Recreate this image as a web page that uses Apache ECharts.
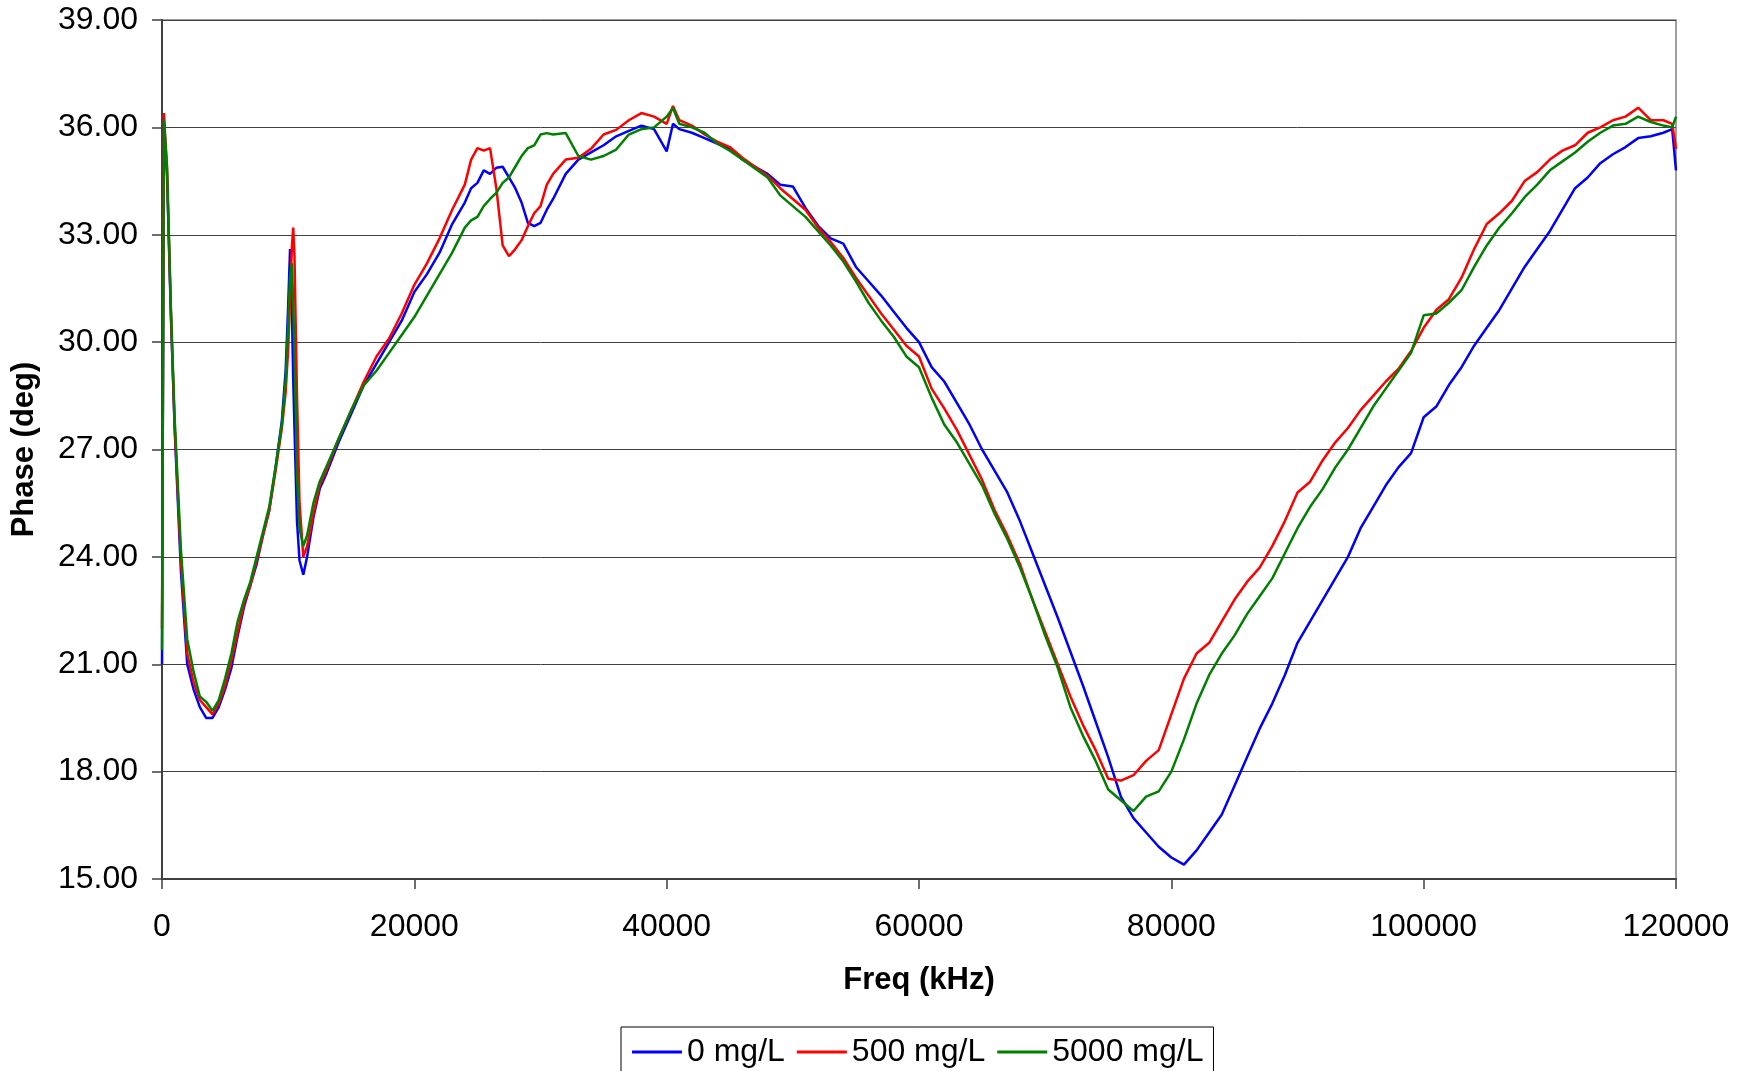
<!DOCTYPE html>
<html>
<head>
<meta charset="utf-8">
<script src="https://cdn.jsdelivr.net/npm/echarts@6/dist/echarts.min.js"></script>
<style>
  html, body { margin: 0; padding: 0; background: #fff; }
  #chart { width: 1749px; height: 1071px; }
</style>
</head>
<body>
<div id="chart"></div>
<script>
// frequency points (kHz)
const freq = [
  0, 150, 400, 700, 1000, 1500, 2000, 2500, 3000, 3500,
  4000, 4500, 5000, 5500, 6000, 6500, 7000, 7500, 8000, 8500,
  9000, 9500, 9800, 10000, 10150, 10300, 10400, 10500, 10700, 10900,
  11200, 11500, 12000, 12500, 13000, 14000, 15000, 16000, 17000, 18000,
  19000, 20000, 21000, 22000, 23000, 24000, 24500, 25000, 25500, 26000,
  26500, 27000, 27500, 28000, 28500, 29000, 29500, 30000, 30500, 31000,
  32000, 33000, 34000, 35000, 36000, 37000, 38000, 39000, 40000, 40500,
  41000, 42000, 43000, 44000, 45000, 46000, 47000, 48000, 49000, 50000,
  51000, 52000, 53000, 54000, 55000, 56000, 57000, 58000, 59000, 60000,
  61000, 62000, 63000, 64000, 65000, 66000, 67000, 68000, 69000, 70000,
  71000, 72000, 73000, 74000, 75000, 76000, 77000, 78000, 79000, 80000,
  81000, 82000, 83000, 84000, 85000, 86000, 87000, 88000, 89000, 90000,
  91000, 92000, 93000, 94000, 95000, 96000, 97000, 98000, 99000, 100000,
  101000, 102000, 103000, 104000, 105000, 106000, 107000, 108000, 109000, 110000,
  111000, 112000, 113000, 114000, 115000, 116000, 117000, 118000, 119000, 119700, 120000
];

// phase (deg), 0 mg/L
const phase0 = [
  21.0, 36.2, 34.6, 30.8, 27.6, 23.6, 21.0, 20.3, 19.8, 19.5,
  19.5, 19.8, 20.3, 20.9, 21.8, 22.6, 23.2, 23.8, 24.6, 25.3,
  26.5, 27.8, 29.2, 31.0, 32.6, 30.8, 29.0, 27.6, 25.0, 23.9,
  23.5, 24.0, 25.1, 25.9, 26.3, 27.2, 28.0, 28.8, 29.4, 30.0,
  30.6, 31.4, 31.9, 32.5, 33.3, 33.9, 34.3, 34.45, 34.8, 34.7,
  34.87, 34.9, 34.6, 34.3, 33.9, 33.33, 33.24, 33.33, 33.7, 34.0,
  34.7, 35.1, 35.3, 35.5, 35.75, 35.9, 36.05, 35.95, 35.33, 36.1,
  35.95, 35.85, 35.7, 35.55, 35.4, 35.1, 34.9, 34.7, 34.4, 34.35,
  33.75, 33.25, 32.9, 32.75, 32.1, 31.7, 31.3, 30.85, 30.4, 30.0,
  29.3, 28.9, 28.3, 27.7, 27.0, 26.4, 25.8, 25.0, 24.1, 23.2,
  22.3, 21.35, 20.4, 19.4, 18.4, 17.3, 16.7, 16.3, 15.9, 15.6,
  15.4, 15.8, 16.3, 16.8, 17.6, 18.4, 19.2, 19.9, 20.7, 21.6,
  22.2, 22.8, 23.4, 24.0, 24.8, 25.4, 26.0, 26.5, 26.9, 27.9,
  28.2, 28.8, 29.3, 29.9, 30.4, 30.9, 31.5, 32.1, 32.6, 33.1,
  33.7, 34.3, 34.6, 35.0, 35.25, 35.45, 35.7, 35.75, 35.85, 35.95, 34.8
];

// phase (deg), 500 mg/L
const phase500 = [
  22.0, 36.4, 34.8, 30.9, 27.7, 23.9, 21.3, 20.5, 20.0, 19.8,
  19.6, 19.9, 20.4, 21.1, 21.9, 22.7, 23.2, 23.9, 24.6, 25.3,
  26.4, 27.6, 28.6, 29.8, 31.2, 32.7, 33.2, 32.4, 28.5, 25.5,
  24.0, 24.3, 25.2, 26.0, 26.4, 27.3, 28.1, 28.9, 29.6, 30.1,
  30.8, 31.6, 32.2, 32.9, 33.7, 34.4, 35.1, 35.42, 35.35, 35.42,
  34.3, 32.7, 32.4, 32.6, 32.85, 33.24, 33.6, 33.8, 34.4, 34.7,
  35.1, 35.15, 35.4, 35.8, 35.93, 36.2, 36.4, 36.3, 36.1, 36.6,
  36.2, 36.05, 35.8, 35.6, 35.45, 35.15, 34.9, 34.65, 34.3, 34.0,
  33.7, 33.2, 32.8, 32.35, 31.8, 31.3, 30.8, 30.35, 29.9, 29.6,
  28.7, 28.15, 27.55, 26.85, 26.15, 25.3, 24.6, 23.8, 22.8, 21.9,
  21.0, 20.1, 19.3, 18.6, 17.8, 17.75, 17.9, 18.3, 18.6, 19.6,
  20.6, 21.3, 21.6, 22.2, 22.8, 23.3, 23.7, 24.3, 25.0, 25.8,
  26.1, 26.7, 27.2, 27.6, 28.1, 28.5, 28.9, 29.25, 29.75, 30.4,
  30.9, 31.2, 31.8, 32.6, 33.3, 33.6, 33.95, 34.5, 34.75, 35.1,
  35.35, 35.5, 35.85, 36.0, 36.2, 36.3, 36.55, 36.2, 36.2, 36.1, 35.4
];

// phase (deg), 5000 mg/L
const phase5000 = [
  21.4, 36.2, 34.9, 31.0, 27.9, 24.2, 21.7, 20.8, 20.1, 19.95,
  19.7, 20.0, 20.6, 21.3, 22.2, 22.8, 23.3, 24.0, 24.7, 25.4,
  26.5, 27.7, 28.9, 30.5, 31.8, 32.2, 31.0, 29.8, 26.3, 24.8,
  24.3, 24.6, 25.5, 26.1, 26.5, 27.3, 28.1, 28.8, 29.2, 29.7,
  30.2, 30.7, 31.3, 31.9, 32.5, 33.2, 33.4, 33.5, 33.8, 34.0,
  34.17, 34.45, 34.6, 34.9, 35.2, 35.42, 35.5, 35.8, 35.84, 35.8,
  35.84, 35.2, 35.1, 35.2, 35.38, 35.8, 35.95, 36.0, 36.3, 36.54,
  36.1, 36.0, 35.85, 35.55, 35.35, 35.1, 34.85, 34.6, 34.1, 33.8,
  33.5, 33.1, 32.7, 32.25, 31.7, 31.1, 30.6, 30.15, 29.6, 29.3,
  28.45, 27.7, 27.2, 26.6, 26.0, 25.2, 24.5, 23.7, 22.8, 21.8,
  20.9, 19.8, 19.0, 18.3, 17.5, 17.2, 16.9, 17.3, 17.45, 18.0,
  18.9, 19.9, 20.7, 21.3, 21.8, 22.4, 22.9, 23.4, 24.1, 24.8,
  25.4, 25.9, 26.5, 27.0, 27.6, 28.2, 28.7, 29.2, 29.7, 30.75,
  30.8, 31.1, 31.45, 32.1, 32.7, 33.2, 33.6, 34.05, 34.4, 34.8,
  35.05, 35.3, 35.6, 35.85, 36.05, 36.1, 36.3, 36.15, 36.05, 36.0, 36.3
];

const seriesNames = ['0 mg/L', '500 mg/L', '5000 mg/L'];
const seriesColors = ['#0000ff', '#ff0000', '#008000'];
const seriesValues = [phase0, phase500, phase5000];

const FONT = 'Liberation Sans, Arial, sans-serif';
const chart = echarts.init(document.getElementById('chart'));

const option = {
  animation: false,
  backgroundColor: '#fff',
  textStyle: { fontFamily: FONT, color: '#000' },
  grid: {
    left: 162, right: 73, top: 20, bottom: 192,
    show: true, borderColor: '#808080', borderWidth: 1.5
  },
  legend: {
    data: seriesNames,
    left: 621, top: 1027,
    padding: [9, 10, 9, 11],
    itemGap: 12,
    itemWidth: 50, itemHeight: 3,
    icon: 'rect',
    borderColor: '#000', borderWidth: 1,
    textStyle: { fontSize: 32, color: '#000', fontFamily: FONT }
  },
  xAxis: {
    type: 'value',
    min: 0, max: 120000, interval: 20000,
    name: 'Freq (kHz)',
    nameLocation: 'middle',
    nameGap: 86,
    nameTextStyle: { fontSize: 31, fontWeight: 'bold', color: '#000', fontFamily: FONT },
    axisLine: { lineStyle: { color: '#404040', width: 2 } },
    axisTick: { show: true, length: 10, lineStyle: { color: '#404040', width: 1.5 } },
    axisLabel: {
      fontSize: 32, color: '#000', margin: 32, fontFamily: FONT,
      formatter: (v) => String(v)
    },
    splitLine: { show: false }
  },
  yAxis: {
    type: 'value',
    min: 15, max: 39, interval: 3,
    name: 'Phase (deg)',
    nameLocation: 'middle',
    nameGap: 122,
    nameTextStyle: { fontSize: 31, fontWeight: 'bold', color: '#000', fontFamily: FONT },
    axisLine: { show: true, lineStyle: { color: '#404040', width: 2 } },
    axisTick: { show: true, length: 10, lineStyle: { color: '#404040', width: 1.5 } },
    axisLabel: {
      fontSize: 32, color: '#000', margin: 24, fontFamily: FONT,
      formatter: (v) => v.toFixed(2)
    },
    splitLine: { show: true, lineStyle: { color: '#404040', width: 1 } }
  },
  series: seriesNames.map((name, i) => ({
    name: name,
    type: 'line',
    data: freq.map((f, j) => [f, seriesValues[i][j]]),
    showSymbol: false,
    symbol: 'none',
    lineStyle: { color: seriesColors[i], width: 2.5 },
    itemStyle: { color: seriesColors[i] }
  }))
};

chart.setOption(option);
</script>
</body>
</html>
